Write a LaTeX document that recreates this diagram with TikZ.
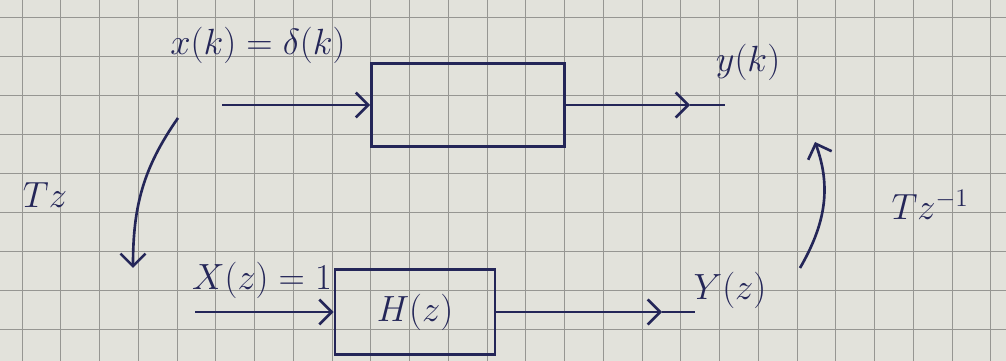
\documentclass[tikz,border=0pt]{standalone}
\usetikzlibrary{arrows.meta}
\definecolor{paper}{RGB}{226,226,219}
\definecolor{gridline}{RGB}{150,150,146}
\definecolor{ink}{RGB}{36,38,88}
\tikzset{
  blockbox/.style={draw=ink, line width=1.5pt, text=ink, font=\huge, minimum width=3.86cm, minimum height=1.66cm},
  sig/.style={draw=ink, line width=1.5pt, -{Straight Barb[length=2.5mm,width=5mm]}},
  wire/.style={draw=ink, line width=1.5pt},
  lbl/.style={text=ink, font=\huge},
}
\begin{document}
\begin{tikzpicture}
        % Paper
        \fill[paper] (0,0) rectangle (20.12,7.22);
        \useasboundingbox (0,0) rectangle (20.12,7.22);
        \foreach \x in {0,...,25}
            \draw[gridline, line width=0.5pt] ({0.44+0.775*\x},0) -- ({0.44+0.775*\x},7.22);
        \foreach \y in {0,...,8}
            \draw[gridline, line width=0.5pt] (0,{6.88-0.78*\y}) -- (20.12,{6.88-0.78*\y});

        % Blocks
        \node[blockbox] (top) at (9.36,5.12) {};
        \node[blockbox, minimum width=3.2cm, minimum height=1.7cm] (bot) at (8.3,0.98) {$H(z)$};

        % Signal ends
        \coordinate (xin) at (4.44,5.12);
        \coordinate (ytip) at (13.8,5.12);
        \coordinate (yend) at (14.5,5.12);
        \coordinate (Xin) at (3.9,0.98);
        \coordinate (Ytip) at (13.24,0.98);
        \coordinate (Yend) at (13.9,0.98);
        \coordinate (tzs) at (3.56,4.86);
        \coordinate (tze) at (2.66,1.86);
        \coordinate (tis) at (16.0,1.86);
        \coordinate (tie) at (16.3,4.38);

        % Edges
        \draw[sig] (xin) -- (top.west);
        \draw[sig] (top.east) -- (ytip);
        \draw[wire] (ytip) -- (yend);
        \draw[sig] (Xin) -- (bot.west);
        \draw[sig] (bot.east) -- (Ytip);
        \draw[wire] (Ytip) -- (Yend);
        \draw[sig] (tzs) to[out=235, in=90] (tze);
        \draw[sig] (tis) to[out=60, in=-70] (tie);

        % Labels
        \node[lbl] (xk) at (5.16,6.32) {$x(k)=\delta(k)$};
        \node[lbl] (yk) at (14.96,5.98) {$y(k)$};
        \node[lbl] (Xz) at (5.24,1.62) {$X(z)=1$};
        \node[lbl] (Yz) at (14.6,1.42) {$Y(z)$};
        \node[lbl] (tz) at (0.9,3.32) {$Tz$};
        \node[lbl] (tzi) at (18.6,3.12) {$Tz^{-1}$};
\end{tikzpicture}
\end{document}
